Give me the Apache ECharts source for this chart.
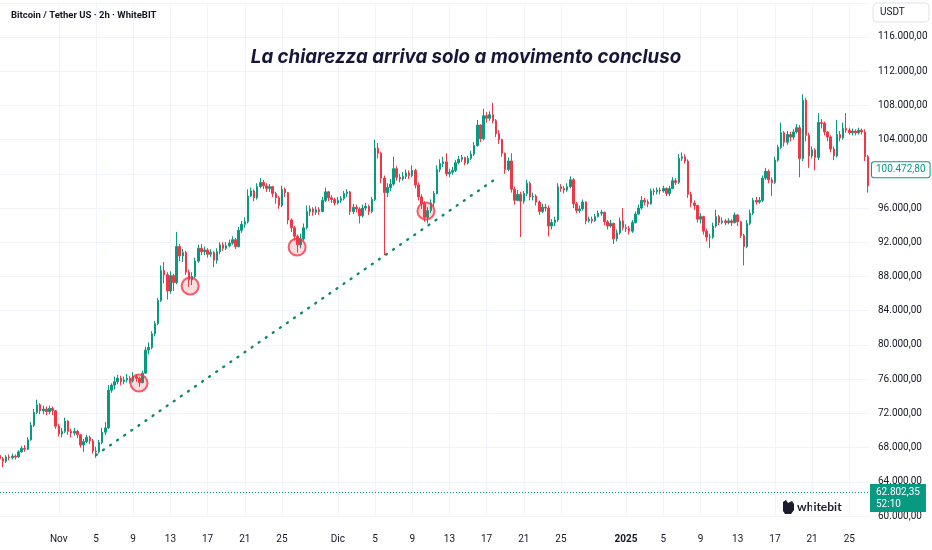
<!DOCTYPE html>
<html><head><meta charset="utf-8">
<script src="https://cdn.jsdelivr.net/npm/echarts@6/dist/echarts.min.js"></script>
<style>html,body{margin:0;padding:0;background:#fff}#c{width:932px;height:550px}</style>
</head><body><div id="c"></div>
<script>
// ---- data (BTC/USDT, 8h candles) ----
const firstCandle = '2024-10-25T16:00:00Z';
const candleHours = 8;
const firstOpen = 67100;
const closes = [
66700,66400,66900,66800,67000,66900,67500,67900,67800,68900,
70600,72100,73000,72300,72500,72200,72600,72300,70500,69600,
69900,71100,69900,69700,69900,69500,68300,68700,69200,68800,
67600,67500,68600,69800,70300,74700,75300,75700,76100,75700,
75900,76100,75800,76300,76100,75600,76700,79400,79700,81300,
82500,85200,88700,88200,86300,88100,87300,91500,90400,90800,
88500,87600,88000,89800,91300,90900,91100,90600,90800,89900,
90900,91700,91300,91600,91900,92300,91500,93400,94100,94400,
97400,98000,97200,98500,99000,98600,98300,98500,97700,97200,
96300,98200,97800,94600,93700,92700,91700,92400,93700,95600,
95900,95500,95800,95600,96900,97900,97200,97000,96600,96900,
97100,97700,97900,95600,96100,95900,95100,96000,96200,95600,
97000,103000,102400,99500,97800,98400,98800,100600,99600,99400,
99700,100100,99800,100400,98700,97300,96500,94900,95700,96600,
97700,100500,101200,101400,100000,100200,100400,101300,101700,101900,
101300,101800,102300,103300,105700,104100,106800,106500,106900,106200,
104700,104000,102400,100500,101500,98200,96900,97600,96800,97700,
98900,97300,97400,96700,95600,96100,96000,93900,94300,94600,
98500,98300,98100,98500,99300,96500,95700,95900,96700,94500,
94700,94500,95000,95400,95500,94400,93900,94200,92400,93100,
94500,93700,93600,93300,94300,95300,96000,96900,96700,96500,
98000,97900,98100,98000,98300,97700,98300,99200,99000,101800,
102000,101500,97600,96600,96300,94700,95000,93300,92600,92600,
93900,95000,94300,94500,94300,94500,94300,95200,94400,92800,
91500,94200,95400,96900,96700,96900,99500,100300,99300,99000,
101600,103100,104800,103700,104600,104300,104900,105400,101800,108600,
104500,102100,102800,101900,106000,105900,104900,104300,102900,102100,
104600,104200,105300,105100,104800,105000,104800,105100,104900,102000,
98600];
const highs = [
67400,66900,67100,67200,67300,67200,67700,68200,68300,69200,
71000,72500,73600,73200,72900,72800,72900,72800,72400,70800,
70300,71500,71200,70200,70300,70100,69600,69000,69500,69400,
69000,68100,68900,70300,71000,75300,75500,76300,76500,76400,
76300,76600,76400,76800,76600,76300,77000,79800,80300,81600,
82800,85500,89300,89700,88500,88600,88300,93200,91800,91200,
91000,88800,88500,90200,91700,91800,91500,91300,91200,91000,
91300,92000,92000,92000,92300,92700,92500,93800,94500,94900,
98200,98400,98200,98900,99500,99300,98900,98800,98600,97900,
97400,98600,98400,97900,94800,93900,92900,93000,94200,96300,
96300,96100,96200,96100,97300,98400,98000,97500,97200,97300,
97400,98000,98200,98000,96500,96400,96100,96400,96600,96400,
97300,104000,103600,102600,99800,98900,99400,102000,100900,100000,
100200,100500,100400,101000,100600,99000,97600,96800,96100,97000,
98000,101000,101700,102000,102400,100600,100800,101600,102100,102200,
102000,102100,102700,103700,106300,105800,107600,107200,107300,108300,
106400,105100,104100,102500,101900,102400,98500,98100,97900,98000,
99300,99100,97800,97600,96900,96500,96500,96300,94700,95000,
98900,98800,98600,98900,99700,99500,96700,96300,97000,96800,
95000,95000,95300,95700,95800,95600,94600,94600,94300,93500,
94900,96000,94100,93900,94600,95600,96400,97400,97200,97000,
98300,98300,98400,98400,98600,98400,98600,99600,99500,102300,
102500,102300,101700,97900,96900,96400,95400,95100,93600,93000,
94300,95800,95200,94900,94700,94800,94700,95500,95300,94500,
93000,94600,95800,97200,97300,97300,99800,100700,100500,99600,
102000,103400,106000,105000,105000,104900,105200,105800,105700,109300,
108900,104800,103200,103000,107100,106400,106100,105000,104500,103200,
106300,105000,106000,107100,105400,105300,105200,105400,105300,105200,
102200];
const lows = [
66300,65700,66200,66500,66600,66600,66800,67400,67500,67700,
68800,70400,71900,71900,71900,71800,71900,71800,70200,69300,
69200,69700,69500,69200,69400,69100,68000,67500,68500,68400,
67300,66800,67300,68400,69500,70200,74400,74800,75400,75300,
75400,75600,75500,75600,75700,75100,75500,76600,78900,79500,
81000,82300,85000,87200,85300,86000,86300,87100,89800,89700,
88200,86800,87000,87800,89600,90500,90500,90200,90300,89100,
89500,90600,91000,91100,91400,91700,91200,91400,93100,93700,
94200,97300,96800,97000,98300,98200,97900,97900,97300,96500,
95900,96100,97300,94100,93200,92200,90800,91300,92200,93500,
95100,95100,95200,95200,95500,96700,96800,96600,96300,96400,
96600,96900,97300,95200,95300,95500,94200,94900,95700,95200,
95400,96800,101800,98900,90500,97300,98000,98600,99200,99000,
99200,99400,99400,99600,98300,96900,95900,94400,94200,95400,
96200,97600,100200,100800,99700,99600,99900,100200,101100,101400,
101000,101100,101600,102100,103200,103700,103900,106000,106200,105900,
104300,103500,102000,100000,100300,97800,96400,96800,92600,96500,
97400,96900,96900,96300,95200,95400,95600,92700,93500,93900,
94400,97900,97700,97900,98300,96000,95400,95400,95700,94100,
94300,94200,94400,94900,95100,94000,93500,93700,91800,92100,
92900,93400,93200,92900,93100,94200,95200,95800,96300,96100,
96400,97500,97600,97600,97800,97400,97400,98200,98700,98800,
101500,101200,97200,96100,95800,94300,94200,92900,92100,91300,
92400,93700,94000,94100,94000,94100,93900,94200,93900,92500,
89300,91300,94000,95200,96400,96500,96700,99300,98900,97400,
98800,101400,102900,103200,103400,103800,104000,104700,99600,101500,
103800,100700,101800,100400,101600,105300,104500,103800,102500,101600,
101900,103800,104000,104800,104600,104500,104500,104600,104600,101500,
97800];
const xTickDates = ['2024-11-01','2024-11-05','2024-11-09','2024-11-13','2024-11-17','2024-11-21','2024-11-25',
  '2024-12-01','2024-12-05','2024-12-09','2024-12-13','2024-12-17','2024-12-21','2024-12-25',
  '2025-01-01','2025-01-05','2025-01-09','2025-01-13','2025-01-17','2025-01-21','2025-01-25'];
const xTickLabels = ['Nov','5','9','13','17','21','25','Dic','5','9','13','17','21','25','2025','5','9','13','17','21','25'];
const circlePoints = [['2024-11-09T15:00:00Z',75550],['2024-11-15T03:00:00Z',86890],['2024-11-26T15:00:00Z',91450],['2024-12-10T11:30:00Z',95660]];
const trendLine = [['2024-11-05T00:00:00Z',67130],['2024-12-18T05:00:00Z',99600]];
const lastPrice = 62802.35;
const lastPriceCountdown = '52:10';
const markedPrice = 100472.80;
const viewStart = '2024-10-25T16:20:00Z';
const viewEnd = '2025-01-27T02:50:00Z';
const yMin = 60000, yMax = 120000, yStep = 4000;
const titleText = 'La chiarezza arriva solo a movimento concluso';
const symbolText = 'Bitcoin / Tether US · 2h · WhiteBIT';

// ---- build ----
const UP = '#089981', DOWN = '#f23645', TXT = '#131722', GRID = '#f0f3fa';
const t0 = Date.parse(firstCandle);
const candles = closes.map((c, i) => {
  const o = i === 0 ? firstOpen : closes[i - 1];
  return [t0 + i * candleHours * 3600e3, o, c, lows[i], highs[i]];
});
const tickTimes = xTickDates.map(d => Date.parse(d + 'T00:00:00Z'));
function fmtPrice(v) {
  const s = v.toFixed(2).split('.');
  return s[0].replace(/\B(?=(\d{3})+(?!\d))/g, '.') + ',' + s[1];
}
const chart = echarts.init(document.getElementById('c'), null, {renderer: 'canvas'});
chart.setOption({
  animation: false,
  backgroundColor: '#ffffff',
  title: [
    {text: symbolText, left: 6, top: 6, textStyle: {fontFamily: 'Roboto', fontSize: 9.5, fontWeight: 'bold', color: TXT}},
    {text: titleText, left: 'center', top: 43, textStyle: {fontFamily: 'Inter', fontSize: 18.7, fontWeight: 'bold', fontStyle: 'italic', color: '#17163a'}}
  ],
  grid: {left: 0, right: 63, top: 2.76, bottom: 34},
  xAxis: {
    type: 'value',
    min: Date.parse(viewStart), max: Date.parse(viewEnd),
    axisLine: {show: false},
    axisTick: {show: false, customValues: tickTimes},
    splitLine: {show: true, lineStyle: {color: GRID, width: 1}},
    axisLabel: {
      customValues: tickTimes,
      margin: 18, fontFamily: 'Roboto', fontSize: 10, color: TXT,
      formatter: (v) => {
        const k = tickTimes.indexOf(v);
        const s = k >= 0 ? xTickLabels[k] : '';
        return /^\d{4}$/.test(s) ? '{b|' + s + '}' : s;
      },
      rich: {b: {fontWeight: 'bold', fontFamily: 'Roboto', fontSize: 10, color: TXT}}
    }
  },
  yAxis: {
    type: 'value', position: 'right', min: yMin, max: yMax, interval: yStep,
    axisLine: {show: false}, axisTick: {show: false},
    splitLine: {lineStyle: {color: GRID, width: 1}},
    axisLabel: {margin: 9, fontFamily: 'Roboto', fontSize: 10, color: TXT,
      formatter: v => v >= yMax ? '' : fmtPrice(v)}
  },
  series: [
    {
      type: 'candlestick', name: 'BTCUSDT', data: candles, barWidth: 2,
      itemStyle: {color: UP, color0: DOWN, borderColor: UP, borderColor0: DOWN, borderWidth: 1},
      markLine: {
        silent: true, symbol: ['none', 'none'], animation: false,
        data: [
          {yAxis: lastPrice, lineStyle: {color: UP, width: 1, type: [1, 2]},
           label: {position: 'end', distance: 1, formatter: fmtPrice(lastPrice) + '\n' + lastPriceCountdown,
             backgroundColor: UP, color: '#fff', fontFamily: 'Roboto', fontSize: 10, lineHeight: 12,
             padding: [2, 6, 2, 6], offset: [0, 6]}},
          {yAxis: markedPrice, lineStyle: {color: 'rgba(0,0,0,0)', width: 0.1},
           label: {show: true, position: 'end', distance: 3, formatter: fmtPrice(markedPrice),
             backgroundColor: '#ffffff', borderColor: UP, borderWidth: 1, borderRadius: 2, color: UP,
             fontFamily: 'Roboto', fontSize: 10, padding: [3, 4, 2, 4]}}
        ]
      }
    },
    {
      type: 'line', data: trendLine.map(p => [Date.parse(p[0]), p[1]]), symbol: 'none', z: 4,
      lineStyle: {color: '#0b8a73', width: 2.4, type: [1, 7.6], cap: 'round'}
    },
    {
      type: 'scatter', data: circlePoints.map(p => [Date.parse(p[0]), p[1]]), symbolSize: 17, z: 5,
      itemStyle: {color: 'rgba(242,54,69,0.22)', borderColor: DOWN, borderWidth: 2}
    }
  ],
  graphic: [
    {type: 'rect', shape: {x: 873, y: 3, width: 56, height: 19, r: 4}, style: {fill: '#fff', stroke: '#e0e3eb', lineWidth: 1}},
    {type: 'text', x: 880, y: 12.5, style: {text: 'USDT', fontFamily: 'Roboto', fontSize: 10, fill: TXT, verticalAlign: 'middle'}},
    {type: 'polygon', shape: {points: [[783,502],[786,500],[788,503],[792,501],[794,504],[794,510],[791,514],[785,514],[783,511]]}, style: {fill: '#1c1c2e'}},
    {type: 'text', x: 797, y: 507, style: {text: 'whitebit', fontFamily: 'Lato', fontWeight: 'bold', fontSize: 12, fill: '#1c1c2e', verticalAlign: 'middle'}}
  ]
});
</script></body></html>
